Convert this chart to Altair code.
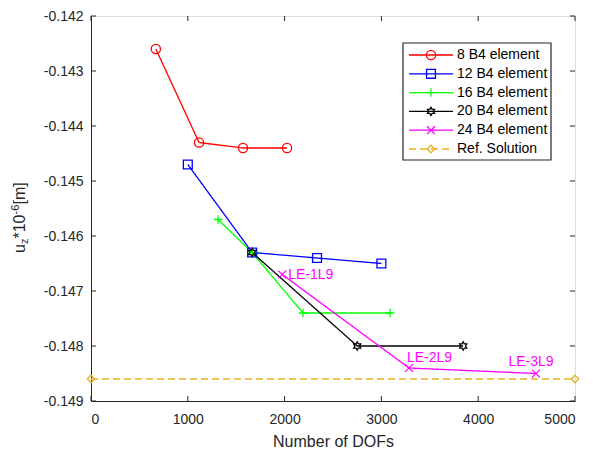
import altair as alt
import pandas as pd

# ---------------- data ----------------
series_names = ["8 B4 element", "12 B4 element", "16 B4 element",
                "20 B4 element", "24 B4 element", "Ref. Solution"]
series_colors = ["#FF0000", "#0000FF", "#00FF00", "#000000", "#FF00FF", "#EDB120"]

dofs_8 = [670, 1116, 1570, 2025]
uz_8 = [-0.1426, -0.1443, -0.1444, -0.1444]
dofs_12 = [1000, 1665, 2335, 3000]
uz_12 = [-0.1447, -0.1463, -0.1464, -0.1465]
dofs_16 = [1312, 1665, 2190, 3090]
uz_16 = [-0.1457, -0.1463, -0.1474, -0.1474]
dofs_20 = [1665, 2750, 3845]
uz_20 = [-0.1463, -0.1480, -0.1480]
dofs_24 = [1975, 3285, 4597]
uz_24 = [-0.1467, -0.1484, -0.1485]
dofs_ref = [0, 5000]
uz_ref = [-0.1486, -0.1486]

le_labels = ["LE-1L9", "LE-2L9", "LE-3L9"]

x_ticks = [0, 1000, 2000, 3000, 4000, 5000]
y_ticks = [-0.142, -0.143, -0.144, -0.145, -0.146, -0.147, -0.148, -0.149]

# ---------------- tables ----------------
all_x = [dofs_8, dofs_12, dofs_16, dofs_20, dofs_24, dofs_ref]
all_y = [uz_8, uz_12, uz_16, uz_20, uz_24, uz_ref]
rows = []
for name, xs, ys in zip(series_names, all_x, all_y):
    for i, (xv, yv) in enumerate(zip(xs, ys)):
        rows.append({"name": name, "dofs": xv, "uz": yv, "order": i})
df = pd.DataFrame(rows)

ann_df = pd.DataFrame({"dofs": dofs_24, "uz": uz_24, "label": le_labels})
xt_df = pd.DataFrame({"t": x_ticks})
yt_df = pd.DataFrame({"t": y_ticks})
leg_df = pd.DataFrame({"name": series_names, "idx": list(range(len(series_names)))})

W, H = 484, 385
FONT = "Liberation Sans"
AX = "#262626"

hexagram = ("M0,-1L0.289,-0.5L0.866,-0.5L0.577,0L0.866,0.5L0.289,0.5L0,1"
            "L-0.289,0.5L-0.866,0.5L-0.577,0L-0.866,-0.5L-0.289,-0.5Z")
shapes = ["circle", "square", "M-1,0L1,0M0,-1L0,1", hexagram,
          "M-1,-1L1,1M-1,1L1,-1", "diamond"]
sizes = [85, 55, 90, 100, 36, 110]
dashes = [[1, 0], [1, 0], [1, 0], [1, 0], [1, 0], [7, 4]]

xscale = alt.Scale(domain=[0, 5000], nice=False, zero=False)
yscale = alt.Scale(domain=[-0.149, -0.142], nice=False, zero=False)
cscale = alt.Scale(domain=series_names, range=series_colors)
shscale = alt.Scale(domain=series_names, range=shapes)
szscale = alt.Scale(domain=series_names, range=sizes)
dscale = alt.Scale(domain=series_names, range=dashes)

base = alt.Chart(df)

lines = base.mark_line(strokeWidth=1.3).encode(
    x=alt.X("dofs:Q", scale=xscale, title="Number of DOFs",
            axis=alt.Axis(values=x_ticks, format="d", ticks=False, grid=False,
                          labelPadding=11, labelFontSize=14, labelColor=AX,
                          titleFontSize=16, titleFontWeight="normal", titleColor=AX,
                          titlePadding=7, domainColor=AX, labelFont=FONT,
                          titleFont=FONT)),
    y=alt.Y("uz:Q", scale=yscale, title=None,
            axis=alt.Axis(values=y_ticks, ticks=False, grid=False, labelPadding=8,
                          labelFontSize=14, labelColor=AX, domainColor=AX,
                          labelFont=FONT,
                          labelExpr="'-' + format(abs(datum.value), '.3f')")),
    color=alt.Color("name:N", scale=cscale, legend=None),
    strokeDash=alt.StrokeDash("name:N", scale=dscale, legend=None),
    detail="name:N",
    order="order:Q",
)

points = base.mark_point(filled=False, strokeWidth=1.3, opacity=1).encode(
    x=alt.X("dofs:Q", scale=xscale),
    y=alt.Y("uz:Q", scale=yscale),
    color=alt.Color("name:N", scale=cscale, legend=None),
    shape=alt.Shape("name:N", scale=shscale, legend=None),
    size=alt.Size("name:N", scale=szscale, legend=None),
)

def ann(i, **kw):
    return alt.Chart(ann_df.iloc[[i]]).mark_text(
        color="#FF00FF", fontSize=14, font=FONT, **kw
    ).encode(
        x=alt.X("dofs:Q", scale=xscale),
        y=alt.Y("uz:Q", scale=yscale),
        text="label:N",
    )

ann1 = ann(0, align="left", baseline="middle", dx=6, dy=0)
ann2 = ann(1, align="left", baseline="middle", dx=-2, dy=-10)
ann3 = ann(2, align="center", baseline="middle", dx=-5, dy=-12)

tick_style = dict(color=AX, strokeWidth=1)
xt_bot = alt.Chart(xt_df).mark_rule(**tick_style).encode(
    x=alt.X("t:Q", scale=xscale), y=alt.value(H), y2=alt.value(H - 5))
xt_top = alt.Chart(xt_df).mark_rule(**tick_style).encode(
    x=alt.X("t:Q", scale=xscale), y=alt.value(0), y2=alt.value(5))
yt_left = alt.Chart(yt_df).mark_rule(**tick_style).encode(
    y=alt.Y("t:Q", scale=yscale), x=alt.value(0), x2=alt.value(5))
yt_right = alt.Chart(yt_df).mark_rule(**tick_style).encode(
    y=alt.Y("t:Q", scale=yscale), x=alt.value(W), x2=alt.value(W - 5))

main = alt.layer(lines, points, ann1, ann2, ann3, xt_bot, xt_top, yt_left, yt_right)

# ---------------- manual legend ----------------
LX0, LX1 = 312, 460
legy = alt.Y("idx:Q", scale=alt.Scale(domain=[0, 5], range=[39, 133]), axis=None)
leg_box = alt.Chart(pd.DataFrame({"a": [0]})).mark_rect(
    fill="white", stroke=AX, strokeWidth=1.2
).encode(x=alt.value(LX0), x2=alt.value(LX1), y=alt.value(27), y2=alt.value(144))
leg_line = alt.Chart(leg_df).mark_rule(strokeWidth=1.3).encode(
    x=alt.value(318), x2=alt.value(362), y=legy,
    color=alt.Color("name:N", scale=cscale, legend=None),
    strokeDash=alt.StrokeDash("name:N", scale=dscale, legend=None),
)
leg_pt = alt.Chart(leg_df).mark_point(filled=False, strokeWidth=1.3, opacity=1).encode(
    x=alt.value(340), y=legy,
    color=alt.Color("name:N", scale=cscale, legend=None),
    shape=alt.Shape("name:N", scale=shscale, legend=None),
    size=alt.Size("name:N", scale=szscale, legend=None),
)
leg_txt = alt.Chart(leg_df).mark_text(
    align="left", baseline="middle", fontSize=14, font=FONT, color="#000000"
).encode(x=alt.value(366), y=legy, text="name:N")
legend = alt.layer(leg_box, leg_line, leg_pt, leg_txt)

# ---------------- y-axis title (with sub/superscript) ----------------
one = pd.DataFrame({"a": [0]})
def ytitle(txt, xp, yp, fs):
    return alt.Chart(one).mark_text(
        text=txt, angle=270, align="left", baseline="middle",
        fontSize=fs, font=FONT, color=AX
    ).encode(x=alt.value(xp), y=alt.value(yp))

yt = alt.layer(
    ytitle("u", -71, 237, 16),
    ytitle("z", -66, 228, 11),
    ytitle("*10", -71, 222.5, 16),
    ytitle("-6", -75, 198.5, 11),
    ytitle("[m]", -71, 188.5, 16),
)

chart = alt.layer(main, legend, yt).resolve_scale(
    x="independent", y="independent"
).properties(
    width=W, height=H,
    autosize=alt.AutoSizeParams(type="none"),
    padding={"left": 83, "top": 8, "right": 10, "bottom": 48},
    background="white",
).configure_view(stroke=AX, strokeWidth=1).configure(font=FONT)

chart.save("out.html", embed_options={"renderer": "svg", "actions": False})
